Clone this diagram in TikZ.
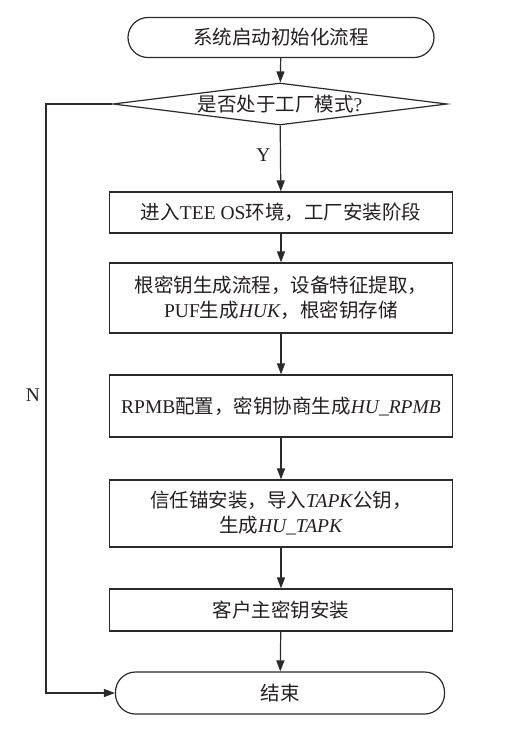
\documentclass[tikz,border=0pt]{standalone}
\usepackage{fontspec}
\setmainfont{Liberation Serif}
\newfontfamily\cjk{Noto Sans CJK SC}
\usepackage{tikz}
\usetikzlibrary{shapes.geometric}
\usetikzlibrary{arrows.meta}
\tikzset{>={Triangle[width=8pt,length=11pt]}}
\definecolor{linegray}{HTML}{2A2A2A}
\definecolor{textgray}{HTML}{231F20}
\newcommand\zh[1]{{\cjk #1}}

\tikzset{
  flowtext/.style={text=textgray, font=\fontsize{19.5}{25}\selectfont, align=center},
  terminal/.style={flowtext, draw=linegray, line width=1.2pt, rounded corners=20pt, minimum height=40pt},
  process/.style={flowtext, draw=linegray, line width=1.2pt, minimum width=343pt, inner sep=0pt},
  decision/.style={flowtext, draw=linegray, line width=1.2pt, diamond, aspect=8, inner sep=0pt,
    minimum width=334pt, minimum height=42pt},
  flow/.style={->, draw=linegray, line width=1.2pt}
}

\begin{document}
\begin{tikzpicture}

  \newcommand\Mid{281pt}

  \useasboundingbox (0,0) rectangle (525pt,-729pt);

  \node[terminal, minimum width=306pt] (start) at (\Mid,-37.5pt) {\zh{系统启动初始化流程}};
  \node[decision] (mode) at (280pt,-104pt) {\zh{是否处于工厂模式}?};

  \node[process, minimum height=41pt] (tee) at (\Mid,-212.5pt)
    {\zh{进入}TEE OS\zh{环境，工厂安装阶段}};
  \node[process, minimum height=70pt] (huk) at (\Mid,-298pt)
    {\zh{根密钥生成流程，设备特征提取，}\\PUF\zh{生成}\textit{HUK}\zh{，根密钥存储}};
  \node[process, minimum height=62pt] (rpmb) at (\Mid,-406pt)
    {RPMB\zh{配置，密钥协商生成}\textit{HU\_RPMB}};
  \node[process, minimum height=67pt] (tapk) at (\Mid,-513.5pt)
    {\zh{信任锚安装，导入}\textit{TAPK}\zh{公钥，}\\\zh{生成}\textit{HU\_TAPK}};
  \node[process, minimum height=42pt] (cust) at (\Mid,-610pt)
    {\zh{客户主密钥安装}};

  \node[terminal, minimum width=329pt, minimum height=42pt] (finish) at (280pt,-693pt) {\zh{结束}};

  \draw[flow] (start) -- (mode);
  \draw[flow] (mode) -- node[flowtext, pos=0.45, left=6pt]{Y} (tee);
  \draw[flow] (tee) -- (huk);
  \draw[flow] (huk) -- (rpmb);
  \draw[flow] (rpmb) -- (tapk);
  \draw[flow] (tapk) -- (cust);
  \draw[flow] (cust) -- (finish);

  % branch N
  \coordinate (nturn) at (46pt,-104pt);
  \draw[flow] (mode.west) -- (nturn) |- (finish.west);
  \node[flowtext] (nlabel) at (33pt,-395pt) {N};

\end{tikzpicture}
\end{document}
